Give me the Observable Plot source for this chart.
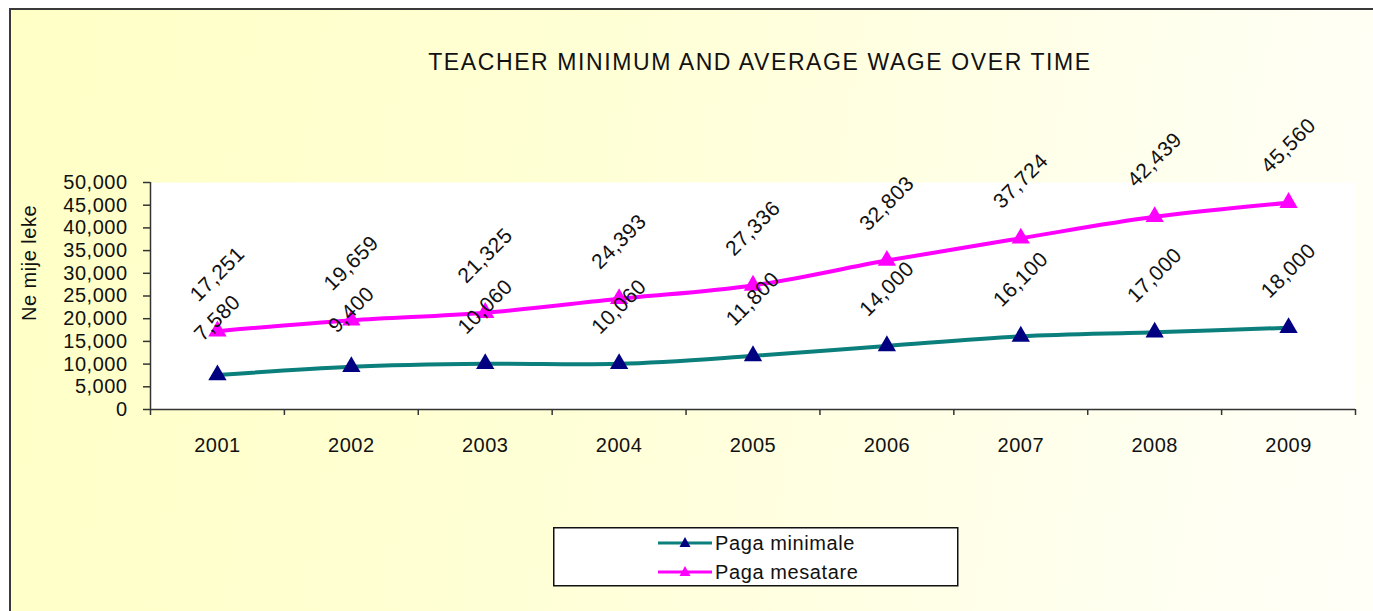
<!DOCTYPE html>
<html>
<head>
<meta charset="utf-8">
<script src="https://cdn.jsdelivr.net/npm/d3@7"></script>
<script src="https://cdn.jsdelivr.net/npm/@observablehq/plot@0.6"></script>
<style>
  html, body { margin: 0; padding: 0; background: #ffffff; }
  #page { position: relative; width: 1373px; height: 611px; overflow: hidden; background: #ffffff; }
  #panel { position: absolute; left: 9px; top: 8px; width: 1420px; height: 640px;
    border-left: 2px solid #3a3a3a; border-top: 2px solid #3a3a3a;
    background: linear-gradient(100deg, #ffffc6 0%, #ffffd6 40%, #fffff0 80%, #fffffa 100%); }
  #chart { position: absolute; left: 0; top: 0; }
  #chart svg text { letter-spacing: 0.5px; }
  #title { position: absolute; left: 260px; width: 1000px; top: 51px; text-align: center;
    font-family: "Liberation Sans", Arial, sans-serif; font-size: 23px; line-height: 1;
    letter-spacing: 1.6px; color: #111; }
  #legend { position: absolute; left: 553px; top: 527px; }
</style>
</head>
<body>
<div id="page">
  <div id="panel"></div>
  <div id="chart"></div>
  <div id="title"></div>
  <div id="legend"></div>
</div>
<script>
const chartTitle = "TEACHER MINIMUM AND AVERAGE WAGE OVER TIME";
const yAxisLabel = "Ne mije leke";
const years = [2001, 2002, 2003, 2004, 2005, 2006, 2007, 2008, 2009];
const pagaMinimale = [7580, 9400, 10060, 10060, 11800, 14000, 16100, 17000, 18000];
const pagaMesatare = [17251, 19659, 21325, 24393, 27336, 32803, 37724, 42439, 45560];
const yTicks = [0, 5000, 10000, 15000, 20000, 25000, 30000, 35000, 40000, 45000, 50000];
const xBandEdges = [2000.5, 2001.5, 2002.5, 2003.5, 2004.5, 2005.5, 2006.5, 2007.5, 2008.5, 2009.5];
const seriesNames = ["Paga minimale", "Paga mesatare"];
const lineColors = ["#0b7f7c", "#ff00ff"];
const markerColors = ["#000080", "#ff00ff"];

const seriesValues = [pagaMinimale, pagaMesatare];
const rows = [];
seriesNames.forEach((name, s) => {
  years.forEach((yr, i) => rows.push({series: name, s, year: yr, value: seriesValues[s][i]}));
});

const fmt = d3.format(",");
const font = "'Liberation Sans', Arial, sans-serif";

const plot = Plot.plot({
  width: 1373,
  height: 611,
  marginLeft: 150,
  marginRight: 18,
  marginTop: 182,
  marginBottom: 202,
  style: {background: "none", fontFamily: font, fontSize: "20px", color: "#111"},
  x: {type: "linear", domain: [2000.5, 2009.5]},
  y: {domain: [0, 50000]},
  color: {domain: seriesNames, range: lineColors},
  marks: [
    Plot.frame({fill: "white", stroke: null}),
    Plot.axisY({ticks: yTicks, tickSize: 7, tickPadding: 16, tickFormat: fmt, label: null, stroke: "#333", strokeWidth: 1.5}),
    Plot.axisX({ticks: years, tickSize: 0, tickPadding: 28, tickFormat: d => String(d), label: null}),
    Plot.axisX({ticks: xBandEdges, tickSize: 6, fill: "none", label: null, stroke: "#333", strokeWidth: 1.5}),
    Plot.ruleY([0], {stroke: "#333", strokeWidth: 1.5}),
    Plot.ruleX([xBandEdges[0]], {stroke: "#333", strokeWidth: 1.5}),
    Plot.line(rows, {x: "year", y: "value", z: "series", stroke: "series", strokeWidth: 4, curve: "catmull-rom"}),
    Plot.dot(rows, {x: "year", y: "value", symbol: "triangle", r: 6.8, fill: d => markerColors[d.s], stroke: null}),
    Plot.text(rows, {x: "year", y: "value", text: d => fmt(d.value), rotate: -45, dy: -57, fontSize: 21, fill: "#111", style: "letter-spacing:1px"}),
    Plot.text([yAxisLabel], {frameAnchor: "left", textAnchor: "middle", dx: -121, dy: -33, rotate: -90, fontSize: 20, fill: "#111"})
  ]
});
document.getElementById("chart").appendChild(plot);
document.getElementById("title").textContent = chartTitle;

// Legend
const lg = d3.select("#legend").append("svg").attr("width", 406).attr("height", 60)
  .style("font-family", font).style("font-size", "20px").style("display", "block");
lg.append("rect").attr("x", 0.75).attr("y", 0.75).attr("width", 404).attr("height", 58)
  .attr("fill", "white").attr("stroke", "#111").attr("stroke-width", 1.5);
seriesNames.forEach((name, s) => {
  const cy = 16 + s * 29;
  lg.append("line").attr("x1", 105).attr("x2", 159).attr("y1", cy).attr("y2", cy)
    .attr("stroke", lineColors[s]).attr("stroke-width", 3);
  lg.append("path").attr("d", `M132,${cy - 6} L137.5,${cy + 4} L126.5,${cy + 4} Z`).attr("fill", markerColors[s]);
  lg.append("text").attr("x", 162).attr("y", cy).attr("dy", "0.35em").attr("fill", "#111")
    .style("letter-spacing", "0.6px").text(name);
});
</script>
</body>
</html>
